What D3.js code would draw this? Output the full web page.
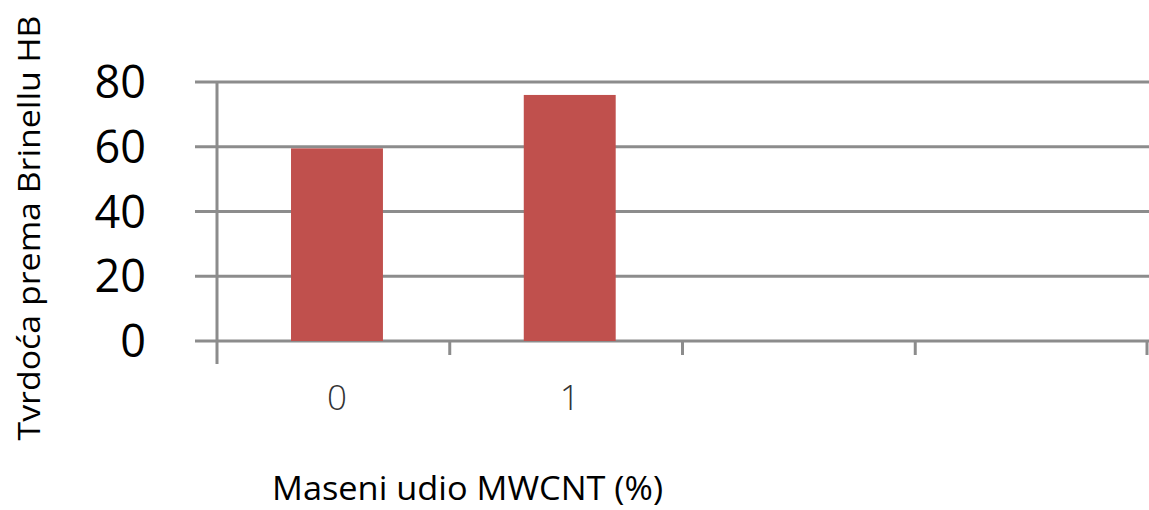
<!DOCTYPE html>
<html>
<head>
<meta charset="utf-8">
<script src="https://cdn.jsdelivr.net/npm/d3@7"></script>
<style>
  html, body { margin: 0; padding: 0; background: #fff; }
  svg { display: block; }
</style>
</head>
<body>
<svg id="chart" width="1149" height="510"></svg>
<script>
const categories = ["0", "1", "", ""];
const hardness = [59.5, 76];
const yTicks = [0, 20, 40, 60, 80];
const yTitle = "Tvrdoća prema Brinellu HB";
const xTitle = "Maseni udio MWCNT (%)";

(function () {
const svg = d3.select("#chart");
const plotLeft = 217, plotRight = 1148, plotTop = 82, plotBottom = 341;

const xb = d3.scaleBand().domain(d3.range(categories.length)).range([plotLeft, plotRight]);
const y = d3.scaleLinear().domain([0, 80]).range([plotBottom, plotTop]);
const barOffset = 0.318, barFrac = 0.395;

const grid = "#8c8c8c";

// gridlines
svg.append("g").selectAll("line").data(yTicks).join("line")
  .attr("x1", 195).attr("x2", 1149)
  .attr("y1", d => y(d)).attr("y2", d => y(d))
  .attr("stroke", grid).attr("stroke-width", 3);

// y axis vertical line
svg.append("line").attr("x1", plotLeft).attr("x2", plotLeft).attr("y1", plotTop).attr("y2", 364)
  .attr("stroke", grid).attr("stroke-width", 3);

// x ticks at band boundaries
const boundaries = d3.range(1, categories.length + 1).map(i => xb.range()[0] + xb.step() * i);
svg.append("g").selectAll("line").data(boundaries).join("line")
  .attr("x1", d => Math.min(d, 1147)).attr("x2", d => Math.min(d, 1147))
  .attr("y1", plotBottom).attr("y2", 355)
  .attr("stroke", grid).attr("stroke-width", 3);

// bars
svg.append("g").selectAll("rect").data(hardness).join("rect")
  .attr("x", (d, i) => xb(i) + xb.step() * barOffset)
  .attr("width", xb.step() * barFrac)
  .attr("y", d => y(d))
  .attr("height", d => y(0) - y(d))
  .attr("fill", "#c0504d");

// y tick labels
svg.append("g").selectAll("text").data(yTicks).join("text")
  .attr("x", 146).attr("y", d => y(d) + 16)
  .attr("text-anchor", "end")
  .attr("font-family", "Open Sans")
  .attr("font-size", 45)
  .attr("fill", "#000")
  .text(d => d);

// x tick labels
svg.append("g").selectAll("text").data(categories).join("text")
  .attr("x", (d, i) => xb(i) + xb.step() * (barOffset + barFrac / 2))
  .attr("y", 410)
  .attr("text-anchor", "middle")
  .attr("font-family", "Open Sans")
  .attr("font-weight", 300)
  .attr("font-size", 35)
  .attr("fill", "#333")
  .text(d => d);

// y title
svg.append("text")
  .attr("transform", "translate(40,228) rotate(-90)")
  .attr("text-anchor", "middle")
  .attr("font-family", "Open Sans")
  .attr("font-size", 31)
  .attr("fill", "#000")
  .attr("textLength", 425).attr("lengthAdjust", "spacingAndGlyphs")
  .text(yTitle);

// x title
svg.append("text")
  .attr("x", 272).attr("y", 500)
  .attr("font-family", "Open Sans")
  .attr("font-size", 32)
  .attr("fill", "#000")
  .attr("textLength", 391).attr("lengthAdjust", "spacingAndGlyphs")
  .text(xTitle);
})();
</script>
</body>
</html>
